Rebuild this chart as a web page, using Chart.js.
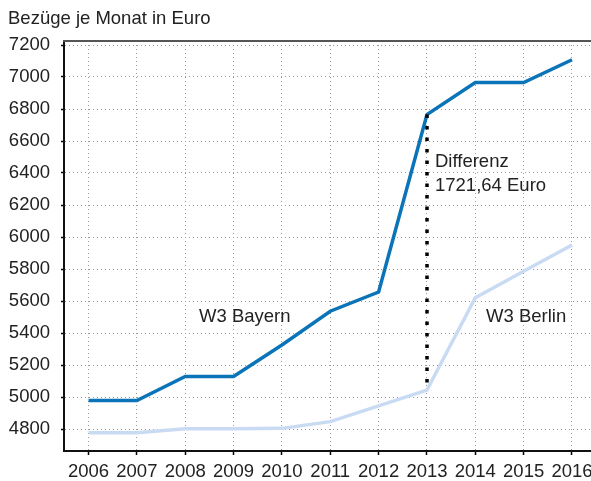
<!DOCTYPE html>
<html>
<head>
<meta charset="utf-8">
<script src="https://cdn.jsdelivr.net/npm/chart.js@4"></script>
<style>
  html, body { margin: 0; padding: 0; background: #fff; }
  #wrap { width: 591px; height: 481px; position: relative; }
</style>
</head>
<body>
<div id="wrap"><canvas id="c" width="591" height="481"></canvas></div>
<script>
const years = [2006, 2007, 2008, 2009, 2010, 2011, 2012, 2013, 2014, 2015, 2016];
const bayern = [4978, 4978, 5128, 5128, 5325, 5536, 5656, 6765, 6965, 6965, 7108];
const berlin = [4777, 4777, 4802, 4802, 4804, 4846, 4944, 5043, 5620, 5786, 5950];
const yTicks = [4800, 5000, 5200, 5400, 5600, 5800, 6000, 6200, 6400, 6600, 6800, 7000, 7200];
const titleText = 'Bezüge je Monat in Euro';
const labelBayern = 'W3 Bayern';
const labelBerlin = 'W3 Berlin';
const diffLines = ['Differenz', '1721,64 Euro'];
const diffYear = 2013;

const FONT = '"Liberation Sans", Arial, Helvetica, sans-serif';
const FSIZE = 18.5;
const TXT = '#222222';

const annot = {
  id: 'annot',
  afterDraw(chart) {
    const ctx = chart.ctx;
    const xs = chart.scales.x, ys = chart.scales.y;
    const a = chart.chartArea;
    ctx.save();
    // top frame line
    ctx.strokeStyle = '#555555';
    ctx.lineWidth = 2;
    ctx.beginPath();
    ctx.moveTo(a.left - 1, a.top);
    ctx.lineTo(a.right, a.top);
    ctx.stroke();
    // difference dotted line
    const i = years.indexOf(diffYear);
    const dx = Math.round(xs.getPixelForValue(diffYear));
    ctx.strokeStyle = '#000000';
    ctx.lineWidth = 3.5;
    ctx.setLineDash([3.5, 8]);
    ctx.beginPath();
    ctx.moveTo(dx, ys.getPixelForValue(bayern[i]));
    ctx.lineTo(dx, ys.getPixelForValue(berlin[i]));
    ctx.stroke();
    ctx.setLineDash([]);
    // texts
    ctx.fillStyle = TXT;
    ctx.font = FSIZE + 'px ' + FONT;
    ctx.textBaseline = 'middle';
    ctx.textAlign = 'left';
    ctx.fillText(titleText, 8, 19);
    ctx.fillText(labelBayern, 199, 317);
    ctx.fillText(labelBerlin, 486, 317);
    ctx.fillText(diffLines[0], dx + 8, 162);
    ctx.fillText(diffLines[1], dx + 8, 186);
    ctx.restore();
  }
};

new Chart(document.getElementById('c'), {
  type: 'line',
  data: {
    datasets: [
      {
        label: labelBerlin,
        data: years.map((y, k) => ({ x: y, y: berlin[k] })),
        borderColor: '#c9dbf3',
        borderWidth: 3.5,
        pointRadius: 0,
        tension: 0,
        fill: false
      },
      {
        label: labelBayern,
        data: years.map((y, k) => ({ x: y, y: bayern[k] })),
        borderColor: '#0b74b8',
        borderWidth: 3.5,
        pointRadius: 0,
        tension: 0,
        fill: false
      }
    ]
  },
  plugins: [annot],
  options: {
    responsive: false,
    animation: false,
    events: [],
    layout: { padding: { top: 41, left: 0, right: 0, bottom: 0 } },
    plugins: {
      legend: { display: false },
      tooltip: { enabled: false },
      title: { display: false }
    },
    scales: {
      x: {
        type: 'linear',
        min: 2005.493,
        max: 2016.393,
        afterBuildTicks(scale) { scale.ticks = years.map(v => ({ value: v })); },
        afterFit(scale) {
          scale.height = 30;
          scale.paddingLeft = 0;
          scale.paddingRight = 0;
        },
        ticks: {
          color: TXT,
          font: { family: FONT, size: FSIZE },
          padding: 6,
          maxRotation: 0,
          autoSkip: false,
          callback: v => String(v)
        },
        grid: {
          color: '#9a9a9a',
          lineWidth: 1,
          drawTicks: true,
          tickLength: 4,
          tickColor: '#000000',
          tickWidth: 1.5
        },
        border: { display: true, color: '#111111', width: 2, dash: [1, 3] }
      },
      y: {
        type: 'linear',
        min: 4662.5,
        max: 7225,
        afterBuildTicks(scale) { scale.ticks = yTicks.map(v => ({ value: v })); },
        afterFit(scale) {
          scale.width = 64;
          scale.paddingTop = 0;
          scale.paddingBottom = 0;
        },
        ticks: {
          color: TXT,
          font: { family: FONT, size: FSIZE },
          padding: 11,
          callback: v => String(v)
        },
        grid: {
          color: '#9a9a9a',
          lineWidth: 1,
          drawTicks: true,
          tickLength: 3,
          tickColor: '#000000',
          tickWidth: 1.5
        },
        border: { display: true, color: '#111111', width: 2, dash: [1, 3] }
      }
    }
  }
});
</script>
</body>
</html>
